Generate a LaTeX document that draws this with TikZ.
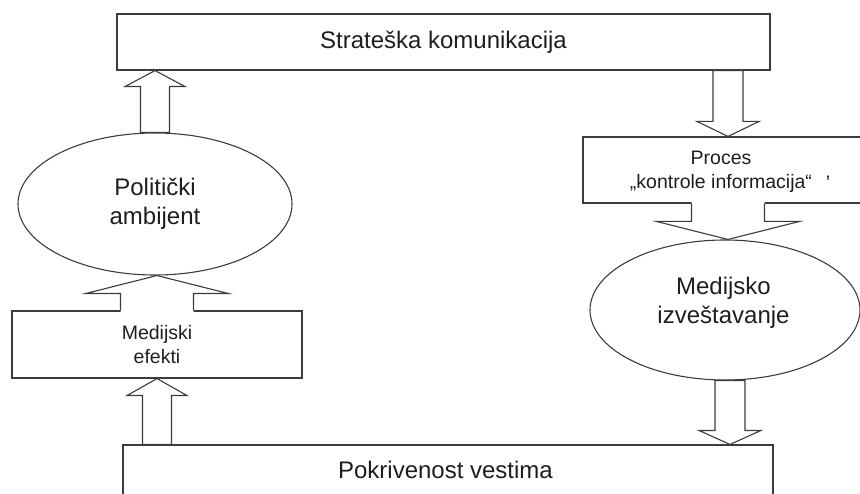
\documentclass[tikz,border=0pt]{standalone}
\usepackage{fontspec}
\setmainfont{Liberation Sans}
\usetikzlibrary{shapes.geometric,calc}
\definecolor{ln}{HTML}{3C3C3C}
\definecolor{tx}{HTML}{1E1E1E}
\tikzset{
  boxnode/.style={draw=ln, line width=1.1pt, rectangle, inner sep=0pt},
  ellnode/.style={draw=ln, line width=1.1pt, ellipse, inner sep=0pt},
  bigtxt/.style={font=\fontsize{24}{29}\selectfont, align=center, text=tx},
  smalltxt/.style={font=\fontsize{19.5}{24.5}\selectfont, align=center, text=tx},
  blk/.style={draw=ln, line width=1.1pt, fill=white, line join=miter},
  blkline/.style={draw=ln, line width=1.1pt, line join=miter},
}
% #1 base, #2 tip, #3 shaft half width, #4 head half width, #5 head length
\newcommand\blockarrow[5]{%
  \draw[blk] let \p1=(#1), \p2=(#2), \p3=($(#2)!#5!(#1)$) in
    (\x2-#3,\y1) -- (\x2-#3,\y3) -- (\x2-#4,\y3) -- (\x2,\y2) --
    (\x2+#4,\y3) -- (\x2+#3,\y3) -- (\x2+#3,\y1) -- cycle;}
\newcommand\notcharrow[5]{%
  \fill[white] let \p1=($(#1)!-1.5pt!(#2)$), \p2=(#2), \p3=($(#2)!#5!(#1)$) in
    (\x2-#3,\y1) -- (\x2-#3,\y3) -- (\x2-#4,\y3) -- (\x2,\y2) --
    (\x2+#4,\y3) -- (\x2+#3,\y3) -- (\x2+#3,\y1) -- cycle;
  \draw[blkline] let \p1=(#1), \p2=(#2), \p3=($(#2)!#5!(#1)$) in
    (\x2-#3,\y1) -- (\x2-#3,\y3) -- (\x2-#4,\y3) -- (\x2,\y2) --
    (\x2+#4,\y3) -- (\x2+#3,\y3) -- (\x2+#3,\y1);}
\begin{document}
\begin{tikzpicture}[x=1pt,y=-1pt]
\useasboundingbox (0,0) rectangle (860,494);
% nodes
\node[boxnode, bigtxt, minimum width=653pt, minimum height=56pt] (top) at (443.5,42) {Strateška komunikacija};
\node[ellnode, bigtxt, minimum width=274pt, minimum height=142pt] (amb) at (155,204) {Politički\\ambijent};
\node[boxnode, smalltxt, minimum width=290pt, minimum height=67pt] (me) at (157,344.5) {Medijski\\efekti};
\node[boxnode, minimum width=650pt, minimum height=52pt] (bot) at (448,471) {};
\node[bigtxt, inner sep=0pt] (bottxt) at (445.5,470) {Pokrivenost vestima};
\node[boxnode, minimum width=290pt, minimum height=66pt] (proc) at (728,170) {};
\node[smalltxt, inner sep=0pt] (proctxt) at (721,172) {Proces\\„kontrole informacija“};
\node[smalltxt, inner sep=0pt, anchor=base] (apos) at (828,190) {'};
\node[ellnode, minimum width=270pt, minimum height=140pt] (med) at (725,310) {};
\node[bigtxt, inner sep=0pt] (medtxt) at (723.5,303) {Medijsko\\izveštavanje};
\coordinate (m4) at ([xshift=5pt]med.south);
% connectors
\blockarrow{amb.north}{amb.north |- top.south}{14.5pt}{30pt}{16pt}
\blockarrow{proc.north |- top.south}{proc.north}{15pt}{31pt}{15pt}
\notcharrow{proc.south}{proc.south |- med.north}{36.5pt}{71.5pt}{18pt}
\blockarrow{m4}{m4 |- bot.north}{15pt}{31pt}{14pt}
\notcharrow{me.north}{me.north |- amb.south}{36.5pt}{71.5pt}{18pt}
\blockarrow{me.south |- bot.north}{me.south}{14.5pt}{30pt}{17pt}
\end{tikzpicture}
\end{document}
